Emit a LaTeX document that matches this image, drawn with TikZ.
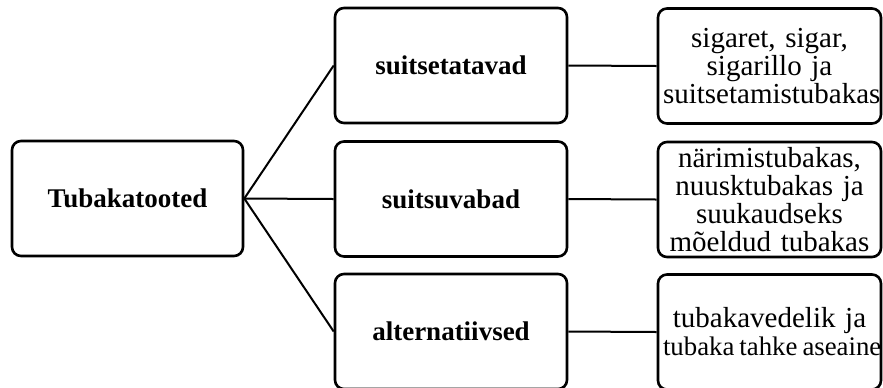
\documentclass[tikz,border=0pt]{standalone}
\usepackage{fontspec}
\setmainfont{Liberation Serif}
\tikzset{
  kast/.style={draw, line width=1.3pt, rounded corners=4.5pt, minimum height=57.5pt, inner sep=1pt, align=center},
  peamine/.style={kast, minimum width=115.5pt, font=\fontsize{13.5}{14}\selectfont\bfseries},
  liik/.style={kast, minimum width=116pt, font=\fontsize{13.5}{14}\selectfont\bfseries},
  naide/.style={kast, inner xsep=2.5pt, text width=106.5pt, font=\fontsize{14.5}{14}\selectfont},
  joon/.style={line width=1pt}
}
\begin{document}
\begin{tikzpicture}[x=0.5pt,y=-0.5pt]
    \useasboundingbox (0,0) rectangle (883,387);
    \node[peamine] (tooted) at (127.5,198.5) {Tubakatooted};
    \node[liik] (suits) at (451,65.5) {suitsetatavad};
    \node[liik] (suitsuta) at (451,199) {suitsuvabad};
    \node[liik] (alt) at (451,331.5) {alternatiivsed};
    \node[naide] (sigaret) at (769.5,66) {sigaret, sigar,\\sigarillo ja\\suitsetamistubakas};
    \node[naide] (narimis) at (769.5,199.5) {närimistubakas,\\nuusktubakas ja\\suukaudseks\\mõeldud tubakas};
    \node[naide] (vedelik) at (769.5,332) {tubakavedelik ja\\\mbox{\fontsize{13.4}{14}\selectfont tubaka\hspace{2.5pt}tahke\hspace{2.5pt}aseaine}};
    \foreach \k/\e in {suits/sigaret,suitsuta/narimis,alt/vedelik} {
        \draw[joon] (tooted.east) -- (\k.west);
        \draw[joon] (\k.east) -- (\e.west);
    }
\end{tikzpicture}
\end{document}
